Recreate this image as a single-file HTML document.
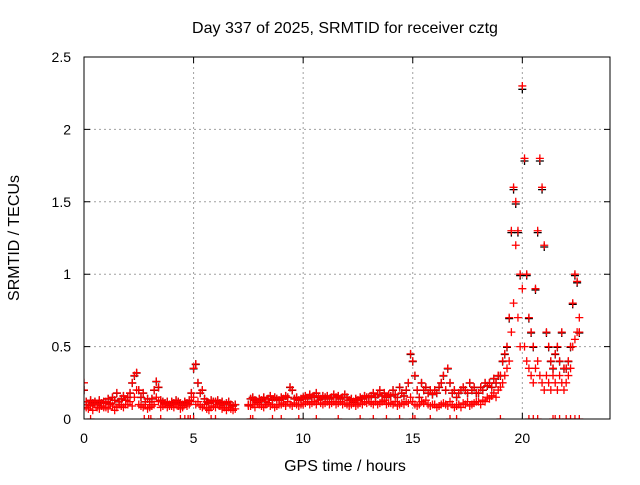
<!DOCTYPE html>
<html><head><meta charset="utf-8"><style>
body{margin:0;background:#fff}
svg text{font-family:"Liberation Sans",sans-serif;fill:#000}
</style></head><body>
<svg id="chart" width="640" height="480" viewBox="0 0 640 480" xmlns="http://www.w3.org/2000/svg">
<defs><clipPath id="pc"><rect x="84" y="57" width="526" height="362"/></clipPath></defs>
<text x="345" y="33" font-size="16" text-anchor="middle">Day 337 of 2025, SRMTID for receiver cztg</text>
<text x="345" y="471" font-size="16" text-anchor="middle">GPS time / hours</text>
<text transform="translate(19,238) rotate(-90)" font-size="16" text-anchor="middle">SRMTID / TECUs</text>
<g id="grid"></g>
<g id="axes"></g>
<g id="marks" clip-path="url(#pc)"></g>
<rect x="84" y="57" width="526" height="362" fill="none" stroke="#000" stroke-width="1"/>
</svg>
<script>
const xTicks=[0,5,10,15,20];
const yTicks=[0,0.5,1,1.5,2,2.5];
const yTickLabels=["0","0.5","1","1.5","2","2.5"];
const tStart=0, tStep=0.1;
const upper=[0.2,0.12,0.1,0.13,0.11,0.12,0.1,0.13,0.11,0.12,
0.12,0.14,0.11,0.15,0.13,0.18,0.12,0.14,0.16,0.13,
0.15,0.18,0.25,0.3,0.32,0.2,0.15,0.18,0.12,0.14,
0.12,0.14,0.2,0.26,0.22,0.13,0.12,0.11,0.12,0.1,
0.12,0.11,0.13,0.12,0.11,0.1,0.12,0.11,0.13,0.18,
0.35,0.38,0.25,0.18,0.2,0.14,0.12,0.11,0.13,0.12,
0.12,0.13,0.11,0.12,0.1,0.11,0.12,0.1,0.09,0.1,
null,null,null,null,null,0.1,0.14,0.15,0.13,0.12,
0.14,0.13,0.15,0.12,0.14,0.16,0.13,0.15,0.14,0.13,
0.15,0.14,0.16,0.15,0.22,0.2,0.14,0.15,0.13,0.14,
0.15,0.16,0.14,0.17,0.15,0.16,0.18,0.15,0.14,0.16,
0.15,0.16,0.14,0.15,0.17,0.15,0.16,0.14,0.15,0.17,
0.15,0.13,0.14,0.12,0.14,0.13,0.15,0.14,0.16,0.15,
0.15,0.16,0.18,0.15,0.17,0.2,0.16,0.18,0.15,0.17,
0.16,0.2,0.17,0.15,0.22,0.18,0.16,0.2,0.25,0.45,
0.4,0.3,0.2,0.15,0.25,0.2,0.22,0.18,0.2,0.17,
0.2,0.18,0.22,0.25,0.3,0.2,0.35,0.25,0.18,0.2,
0.15,0.18,0.2,0.22,0.2,0.18,0.25,0.2,0.22,0.18,
0.18,0.22,0.2,0.25,0.23,0.25,0.22,0.28,0.25,0.3,
0.3,0.4,0.45,0.5,0.7,1.3,1.6,1.5,1.3,1.0,
2.3,1.8,1.0,0.7,0.6,0.5,0.9,1.3,1.8,1.6,
1.2,0.6,0.5,0.4,0.35,0.45,0.5,0.4,0.6,0.35,
0.35,0.4,0.5,0.8,1.0,0.95,0.6];
const lower=[0.25,0.08,0.07,0.09,0.06,0.1,0.08,0.07,0.09,0.08,
0.08,0.07,0.1,0.09,0.06,0.08,0.1,0.09,0.08,0.1,
0.1,0.12,0.09,0.15,0.2,0.1,0.09,0.08,0.1,0.07,
0.08,0.09,0.1,0.15,0.12,0.08,0.09,0.1,0.08,0.09,
0.09,0.08,0.1,0.09,0.07,0.08,0.1,0.09,0.1,0.12,
0.15,0.1,0.12,0.09,0.08,0.1,0.07,0.06,0.08,0.09,
0.08,0.1,0.09,0.07,0.08,0.06,0.08,0.07,0.06,0.07,
null,null,null,null,null,0.09,0.09,0.1,0.08,0.11,
0.1,0.09,0.08,0.1,0.11,0.09,0.1,0.08,0.09,0.1,
0.1,0.11,0.09,0.12,0.1,0.09,0.11,0.1,0.09,0.1,
0.1,0.11,0.12,0.1,0.11,0.12,0.1,0.13,0.11,0.1,
0.11,0.12,0.1,0.11,0.12,0.1,0.11,0.12,0.1,0.11,
0.1,0.09,0.1,0.11,0.09,0.1,0.11,0.1,0.12,0.11,
0.12,0.11,0.1,0.12,0.1,0.11,0.12,0.13,0.1,0.11,
0.11,0.1,0.12,0.09,0.1,0.11,0.1,0.12,0.11,0.15,
0.12,0.1,0.09,0.1,0.12,0.11,0.13,0.1,0.09,0.1,
0.1,0.08,0.09,0.1,0.11,0.1,0.09,0.12,0.1,0.08,
0.09,0.1,0.08,0.11,0.1,0.12,0.09,0.1,0.11,0.12,
0.12,0.1,0.13,0.12,0.15,0.14,0.16,0.18,0.15,0.2,
0.22,0.25,0.3,0.35,0.4,0.6,0.8,1.2,0.7,0.5,
0.9,0.5,0.4,0.35,0.3,0.25,0.35,0.4,0.3,0.25,
0.2,0.3,0.25,0.2,0.3,0.25,0.2,0.3,0.25,0.2,
0.25,0.3,0.35,0.5,0.55,0.6,0.7];
const zeroTimes=[0.3,2.75,2.95,3.05,3.5,4.4,4.6,4.75,4.85,5.0,5.8,6.0,7.6,7.7,8.6,9.0,9.8,10.6,11.6,12.6,13.2,13.8,14.4,15.0,15.1,15.8,16.7,17.0,19.0,20.3,20.5,20.7,21.4,21.5,21.7,22.0,22.2,22.4,22.6];
const NS="http://www.w3.org/2000/svg";
const X=t=>84+t*(526/24);
const Y=v=>419-v*(362/2.5);
function mk(tag,attrs,parent){const e=document.createElementNS(NS,tag);for(const k in attrs)e.setAttribute(k,attrs[k]);parent.appendChild(e);return e;}
const grid=document.getElementById('grid'),axes=document.getElementById('axes'),marks=document.getElementById('marks');
xTicks.forEach((t,i)=>{
  if(t>0){const g=mk('line',{x1:X(t),x2:X(t),y1:57,y2:419,stroke:'#a0a0a0','stroke-dasharray':'2,3'},grid);
  
  }
  const tk=mk('path',{d:`M${X(t)},419v-6M${X(t)},57v6`,stroke:'#000'},axes);
  
  
  const tx=mk('text',{x:X(t),y:443,'font-size':14,'text-anchor':'middle'},axes);tx.textContent=String(t);
  
  
});
yTicks.forEach((v,i)=>{
  if(v>0&&v<2.5){const g=mk('line',{x1:84,x2:610,y1:Y(v),y2:Y(v),stroke:'#a0a0a0','stroke-dasharray':'2,3'},grid);
  
  }
  const tk=mk('path',{d:`M84,${Y(v)}h6M610,${Y(v)}h-6`,stroke:'#000'},axes);
  
  
  const tx=mk('text',{x:71,y:Y(v)+5,'font-size':14,'text-anchor':'end'},axes);tx.textContent=yTickLabels[i];
  
  
});
function cross(t,v,color){
  const x=X(t),y=Y(v);
  const p=mk('path',{d:`M${x-4},${y}h8M${x},${y-4}v8`,stroke:color,'stroke-width':1.3,fill:'none'},marks);
  
  
}
upper.forEach((v,i)=>{if(v!==null)cross(tStart+i*tStep,v*0.99,'#000');});
lower.forEach((v,i)=>{if(v!==null)cross(tStart+i*tStep,v,'#f00');});
upper.forEach((v,i)=>{if(v!==null)cross(tStart+i*tStep,v,'#f00');});
zeroTimes.forEach(t=>cross(t,0,'#f00'));
</script>
</body></html>
